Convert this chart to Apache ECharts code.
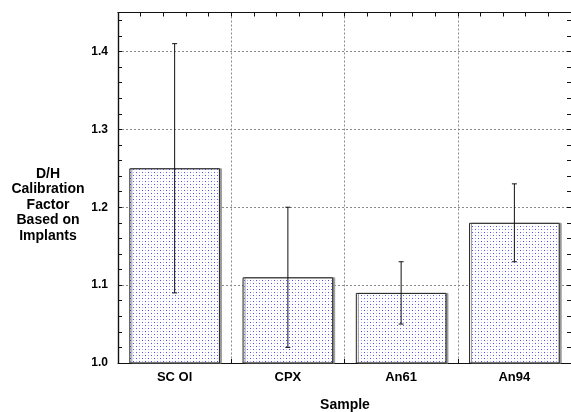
<!DOCTYPE html>
<html>
<head>
<meta charset="utf-8">
<script src="https://cdn.jsdelivr.net/npm/echarts@6/dist/echarts.min.js"></script>
<style>
html,body{margin:0;padding:0;background:#fff;}
#main{width:571px;height:412px;}
</style>
</head>
<body>
<div id="main"></div>
<script>
var categories = ['SC Ol', 'CPX', 'An61', 'An94'];
var values = [1.25, 1.11, 1.09, 1.18];
var errLow = [1.09, 1.02, 1.05, 1.13];
var errHigh = [1.41, 1.20, 1.13, 1.23];
var yTicks = [1.0, 1.1, 1.2, 1.3, 1.4];

var FONT = '"Liberation Sans", Arial, Helvetica, sans-serif';

// dotted fill pattern (sparse blue dots on white)
var pc = document.createElement('canvas');
pc.width = 6; pc.height = 6;
var pctx = pc.getContext('2d');
pctx.fillStyle = '#ffffff';
pctx.fillRect(0, 0, 6, 6);
pctx.fillStyle = '#4848f4';
pctx.fillRect(1, 1, 1, 1);
pctx.fillRect(4, 4, 1, 1);
pctx.fillStyle = '#aeaefa';
pctx.fillRect(4, 1, 1, 1);
pctx.fillRect(1, 4, 1, 1);

var chart = echarts.init(document.getElementById('main'), null, {renderer: 'canvas'});

var gridLine = {show: true, lineStyle: {color: '#8a8a8a', type: [2, 2], width: 1}};
var axLine = {show: true, lineStyle: {color: '#111', width: 1.2}};
var noLine = {show: false};
var tick = {show: true, inside: false, length: 4, lineStyle: {color: '#111'}};
var minor = {show: true, splitNumber: 5, length: 4, lineStyle: {color: '#111'}};

function tickX(pos) {
  return {
    type: 'value', min: 0, max: 4, interval: 1, position: pos, offset: -4,
    axisLine: noLine, axisTick: tick, minorTick: minor,
    axisLabel: {show: false}, splitLine: {show: false}
  };
}
function tickY(pos) {
  return {
    type: 'value', min: 1.0, max: 1.45, interval: 0.1, position: pos, offset: -4,
    axisLine: noLine, axisTick: tick, minorTick: minor,
    axisLabel: {show: false}, splitLine: {show: false}
  };
}

var option = {
  animation: false,
  backgroundColor: '#fff',
  grid: {left: 118, right: -2, top: 12.5, bottom: 49, containLabel: false},
  xAxis: [
    {
      type: 'category', data: categories, position: 'bottom',
      axisLine: axLine, axisTick: {show: false},
      axisLabel: {fontFamily: FONT, fontWeight: 'bold', fontSize: 13, color: '#000', margin: 8},
      splitLine: {show: false}
    },
    {
      type: 'value', min: 0, max: 4, interval: 1, position: 'top',
      axisLine: axLine, axisTick: {show: false},
      axisLabel: {show: false},
      splitLine: gridLine
    },
    tickX('bottom'),
    tickX('top')
  ],
  yAxis: [
    {
      type: 'value', min: 1.0, max: 1.45, interval: 0.1, position: 'left',
      axisLine: axLine, axisTick: {show: false},
      axisLabel: {
        fontFamily: FONT, fontWeight: 'bold', fontSize: 12, color: '#000', margin: 10,
        showMaxLabel: false,
        formatter: function (v) {
          for (var i = 0; i < yTicks.length; i++) {
            if (Math.abs(v - yTicks[i]) < 1e-6) return yTicks[i].toFixed(1);
          }
          return '';
        }
      },
      splitLine: gridLine
    },
    {
      type: 'value', min: 1.0, max: 1.45, interval: 0.1, position: 'right',
      axisLine: axLine, axisTick: {show: false},
      axisLabel: {show: false},
      splitLine: {show: false}
    },
    tickY('left'),
    tickY('right')
  ],
  graphic: [
    {
      type: 'text', x: 48, y: 166,
      style: {
        text: 'D/H\nCalibration\nFactor\nBased on\nImplants',
        font: 'bold 14px ' + FONT, fill: '#000',
        align: 'center', verticalAlign: 'top', lineHeight: 15.5
      }
    },
    {
      type: 'text', x: 345, y: 398,
      style: {text: 'Sample', font: 'bold 14px ' + FONT, fill: '#000', align: 'center', verticalAlign: 'top'}
    }
  ],
  series: [
    {
      type: 'bar', xAxisIndex: 0, yAxisIndex: 0,
      data: values, barWidth: '80%',
      itemStyle: {
        color: {image: pc, repeat: 'repeat'},
        borderColor: '#222', borderWidth: 1,
        shadowColor: '#9a9a9a', shadowOffsetX: 2, shadowOffsetY: 0, shadowBlur: 0
      },
      z: 2
    },
    {
      type: 'custom', xAxisIndex: 0, yAxisIndex: 0,
      data: categories.map(function (c, i) { return [i, errLow[i], errHigh[i]]; }),
      renderItem: function (params, api) {
        var i = api.value(0);
        var lo = api.coord([i, api.value(1)]);
        var hi = api.coord([i, api.value(2)]);
        var w = 2.5;
        var st = {stroke: '#111', lineWidth: 1};
        return {
          type: 'group',
          children: [
            {type: 'line', shape: {x1: lo[0], y1: lo[1], x2: hi[0], y2: hi[1]}, style: st},
            {type: 'line', shape: {x1: lo[0] - w, y1: lo[1], x2: lo[0] + w, y2: lo[1]}, style: st},
            {type: 'line', shape: {x1: hi[0] - w, y1: hi[1], x2: hi[0] + w, y2: hi[1]}, style: st}
          ]
        };
      },
      z: 5
    }
  ]
};
chart.setOption(option);
</script>
</body>
</html>
